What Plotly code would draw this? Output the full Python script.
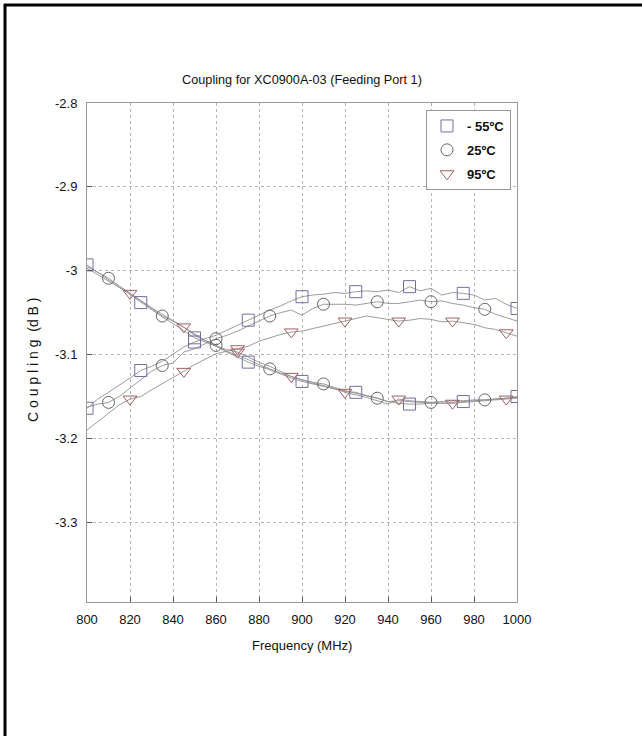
import plotly.graph_objects as go

# ---------------- data ----------------
freq = [800, 805, 810, 815, 820, 825, 830, 835, 840, 845, 850, 855, 860, 865, 870,
        875, 880, 885, 890, 895, 900, 905, 910, 915, 920, 925, 930, 935, 940, 945,
        950, 955, 960, 965, 970, 975, 980, 985, 990, 995, 1000]

m55_up = [-3.164, -3.153, -3.145, -3.137, -3.128, -3.119, -3.114, -3.108, -3.100, -3.091,
          -3.085, -3.081, -3.077, -3.071, -3.065, -3.059, -3.053, -3.047, -3.042, -3.036,
          -3.031, -3.029, -3.028, -3.026, -3.027, -3.025, -3.024, -3.025, -3.023, -3.026,
          -3.019, -3.024, -3.021, -3.029, -3.026, -3.027, -3.029, -3.035, -3.033, -3.040,
          -3.045]
m55_dn = [-2.993, -3.002, -3.011, -3.020, -3.029, -3.038, -3.046, -3.055, -3.063, -3.072,
          -3.080, -3.085, -3.090, -3.097, -3.103, -3.109, -3.114, -3.118, -3.123, -3.128,
          -3.132, -3.135, -3.138, -3.141, -3.144, -3.145, -3.149, -3.152, -3.156, -3.158,
          -3.159, -3.159, -3.158, -3.158, -3.157, -3.156, -3.155, -3.154, -3.153, -3.152,
          -3.150]

p25_up = [-3.163, -3.159, -3.157, -3.150, -3.140, -3.130, -3.120, -3.113, -3.110, -3.097,
          -3.093, -3.087, -3.081, -3.077, -3.072, -3.066, -3.060, -3.054, -3.050, -3.047,
          -3.053, -3.045, -3.040, -3.040, -3.040, -3.041, -3.039, -3.037, -3.039, -3.039,
          -3.037, -3.035, -3.037, -3.036, -3.039, -3.041, -3.044, -3.046, -3.052, -3.056,
          -3.060]
p25_dn = [-2.995, -3.002, -3.009, -3.018, -3.027, -3.036, -3.045, -3.054, -3.060, -3.068,
          -3.076, -3.083, -3.089, -3.096, -3.101, -3.106, -3.112, -3.117, -3.122, -3.126,
          -3.130, -3.133, -3.135, -3.139, -3.143, -3.146, -3.149, -3.152, -3.156, -3.155,
          -3.156, -3.157, -3.157, -3.156, -3.155, -3.155, -3.154, -3.154, -3.153, -3.152,
          -3.151]

p95_up = [-3.190, -3.180, -3.170, -3.160, -3.153, -3.150, -3.142, -3.135, -3.127, -3.120,
          -3.112, -3.105, -3.099, -3.096, -3.093, -3.090, -3.084, -3.080, -3.076, -3.073,
          -3.072, -3.069, -3.066, -3.063, -3.060, -3.057, -3.054, -3.056, -3.058, -3.060,
          -3.059, -3.057, -3.058, -3.061, -3.060, -3.062, -3.064, -3.068, -3.070, -3.074,
          -3.078]
p95_dn = [-2.997, -3.005, -3.012, -3.020, -3.027, -3.036, -3.044, -3.052, -3.059, -3.067,
          -3.077, -3.084, -3.090, -3.094, -3.097, -3.103, -3.109, -3.114, -3.120, -3.126,
          -3.130, -3.134, -3.137, -3.140, -3.145, -3.148, -3.151, -3.155, -3.159, -3.153,
          -3.155, -3.156, -3.157, -3.158, -3.158, -3.157, -3.156, -3.155, -3.154, -3.153,
          -3.152]

# marker positions (frequencies where symbols are drawn)
m55_mark_freq = [800, 825, 850, 875, 900, 925, 950, 975, 1000]
p25_mark_freq = [810, 835, 860, 885, 910, 935, 960, 985]
p95_mark_freq = [820, 845, 870, 895, 920, 945, 970, 995]

series_names = ["- 55ºC", "25ºC", "95ºC"]
y_ticks = [-2.8, -2.9, -3.0, -3.1, -3.2, -3.3]
y_tick_text = ["-2.8", "-2.9", "-3", "-3.1", "-3.2", "-3.3"]
x_ticks = [800, 820, 840, 860, 880, 900, 920, 940, 960, 980, 1000]

# ---------------- figure ----------------
W, H = 642, 736
L, R, T, B = 87, 125, 103, 134
FONT = "Liberation Sans, Arial, sans-serif"
LINE_COLOR = "#909090"
TXT = "#111111"

fig = go.Figure()

for ys in [m55_up, m55_dn, p25_up, p25_dn, p95_up, p95_dn]:
    fig.add_trace(go.Scatter(x=freq, y=ys, mode="lines",
                             line=dict(color=LINE_COLOR, width=0.9),
                             showlegend=False, hoverinfo="skip"))


def pick(mark_freq, ys):
    return [ys[freq.index(f)] for f in mark_freq]


specs = [
    (series_names[0], m55_mark_freq, m55_up, m55_dn, "square-open", "#7070a0"),
    (series_names[1], p25_mark_freq, p25_up, p25_dn, "circle-open", "#666666"),
    (series_names[2], p95_mark_freq, p95_up, p95_dn, "triangle-down-open", "#a06060"),
]
for i, (name, mf, up, dn, sym, col) in enumerate(specs):
    xs = mf + [None] + mf
    ys = pick(mf, up) + [None] + pick(mf, dn)
    fig.add_trace(go.Scatter(x=xs, y=ys, mode="markers", name=name,
                             legendgroup="g%d" % i,
                             marker=dict(symbol=sym, size=12, color=col,
                                         line=dict(width=1, color=col))))

pw = W - L - R
ph = H - T - B


def px_x(p):
    return (p - L) / pw


def px_y(p):
    return 1 - (p - T) / ph


shapes = [
    dict(type="line", xref="paper", yref="paper", x0=px_x(5), x1=px_x(5),
         y0=px_y(4), y1=px_y(740), line=dict(color="black", width=3)),
    dict(type="line", xref="paper", yref="paper", x0=px_x(4), x1=px_x(645),
         y0=px_y(5), y1=px_y(5), line=dict(color="black", width=3)),
]

annotations = [
    dict(text="Frequency (MHz)", xref="paper", yref="paper",
         x=px_x((L + W - R) / 2), y=px_y(645), xanchor="center", yanchor="middle",
         showarrow=False, font=dict(family=FONT, size=13, color=TXT)),
    dict(text="C o u p l i n g  (d B )", xref="paper", yref="paper",
         x=px_x(33), y=px_y(359), xanchor="center", yanchor="middle",
         textangle=-90, showarrow=False,
         font=dict(family=FONT, size=14, color=TXT)),
]

fig.update_layout(
    width=W, height=H,
    margin=dict(l=L, r=R, t=T, b=B),
    paper_bgcolor="white", plot_bgcolor="white",
    font=dict(family=FONT, size=13, color=TXT),
    title=dict(text="Coupling for XC0900A-03 (Feeding Port 1)",
               x=px_x((L + W - R) / 2), xref="paper", xanchor="center",
               y=1 - 80 / H, yanchor="middle",
               font=dict(family=FONT, size=12.7, color=TXT)),
    showlegend=True,
    legend=dict(x=px_x(511), xanchor="right", y=px_y(110), yanchor="top",
                bgcolor="white", bordercolor="#999999", borderwidth=1,
                font=dict(family=FONT, size=13, color=TXT, weight="bold"),
                itemwidth=30, tracegroupgap=4),
    shapes=shapes,
    annotations=annotations,
)

fig.update_xaxes(range=[800, 1000], tickvals=x_ticks, ticks="inside", ticklen=5,
                 tickcolor="#555555", showline=True, linecolor="#9a9a9a", linewidth=1,
                 mirror=True, showgrid=True, gridcolor="#b5b5b5", griddash="dot",
                 gridwidth=1, zeroline=False, ticklabelstandoff=5,
                 tickfont=dict(family=FONT, size=13, color=TXT))
fig.update_yaxes(range=[-3.395, -2.8], tickvals=y_ticks, ticktext=y_tick_text,
                 ticks="inside", ticklen=5, tickcolor="#555555",
                 showline=True, linecolor="#9a9a9a", linewidth=1, mirror=True,
                 showgrid=True, gridcolor="#b5b5b5", griddash="dot", gridwidth=1,
                 zeroline=False, ticklabelstandoff=6,
                 tickfont=dict(family=FONT, size=13, color=TXT))

fig.write_html("out.html",
               config={"displayModeBar": False},
               post_script="document.body.style.margin='0';"
                           "document.body.style.overflow='hidden';")
